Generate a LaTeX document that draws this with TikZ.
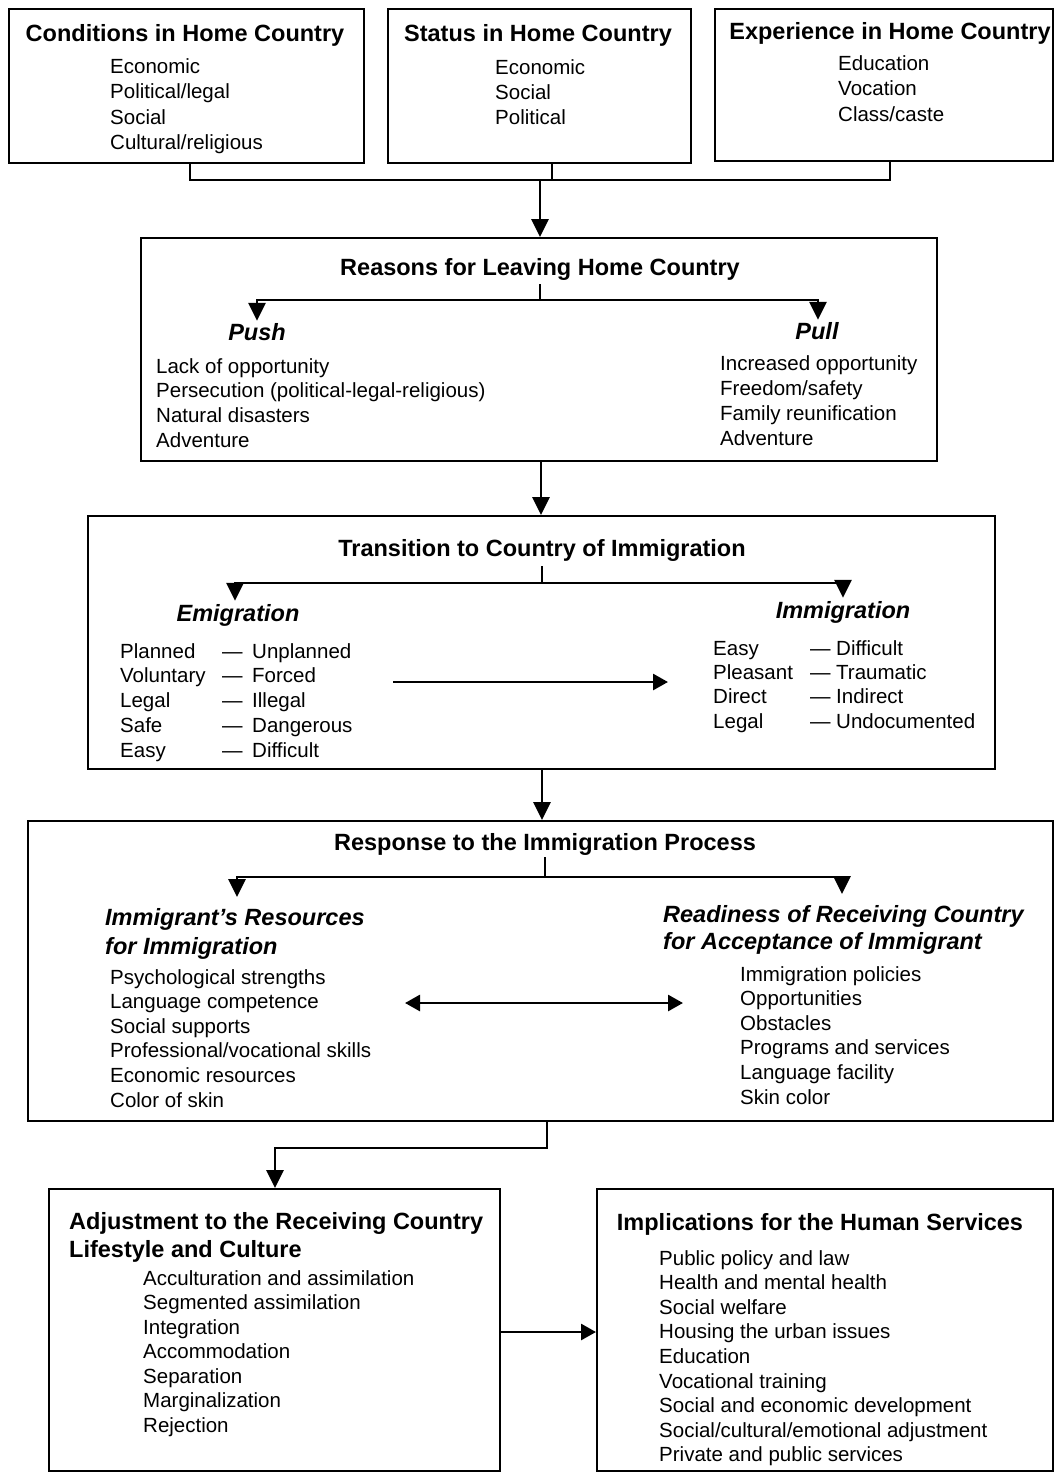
\documentclass[tikz,border=0pt]{standalone}
\usepackage{fontspec}
\setmainfont{Liberation Sans}
\usetikzlibrary{arrows.meta,calc}
\begin{document}
\begin{tikzpicture}[x=1pt,y=-1pt,
  box/.style={draw,line width=2pt,inner sep=0pt,anchor=north west},
  ttl/.style={font=\fontsize{23.5}{27}\selectfont\bfseries,anchor=base,inner sep=0pt},
  hd/.style={font=\fontsize{23.5}{28}\selectfont\bfseries\itshape,anchor=base west,inner sep=0pt},
  hdc/.style={font=\fontsize{23.5}{28}\selectfont\bfseries\itshape,anchor=base,inner sep=0pt},
  itm/.style={font=\fontsize{20.5}{25}\selectfont,anchor=base west,inner sep=0pt},
  conn/.style={line width=2.8pt,line cap=rect},
  arr/.style={line width=2.8pt,-{Triangle[length=18pt,width=17pt]}},
  arrs/.style={line width=2.8pt,-{Triangle[length=15pt,width=16pt]}},
  darr/.style={line width=2.8pt,{Triangle[length=15pt,width=16pt]}-{Triangle[length=15pt,width=16pt]}}
]
\useasboundingbox (0,0) rectangle (1054,1473);
\fill[white] (0,0) rectangle (1054,1473);

% ---------- top row ----------
\node[box,minimum width=355pt,minimum height=154pt] (b1) at (8,8) {};
\node[box,minimum width=303pt,minimum height=154pt] (b2) at (387,8) {};
\node[box,minimum width=338pt,minimum height=152pt] (b3) at (714,8) {};

\node[ttl] (t1) at (185,41) {Conditions in Home Country};
\foreach \t [count=\i from 0] in {Economic,Political/legal,Social,Cultural/religious}
  \node[itm] (c1-\i) at (110,{73+25.6*\i}) {\t};

\node[ttl] (t2) at (538,41) {Status in Home Country};
\foreach \t [count=\i from 0] in {Economic,Social,Political}
  \node[itm] (c2-\i) at (495,{74+25*\i}) {\t};

\node[ttl] (t3) at (890,39) {Experience in Home Country};
\foreach \t [count=\i from 0] in {Education,Vocation,Class/caste}
  \node[itm] (c3-\i) at (838,{70+25.5*\i}) {\t};

\coordinate (j1) at (190,180);
\coordinate (j2) at (552,180);
\coordinate (j3) at (890,180);
\coordinate (jm) at (540,180);
\draw[conn] (b1.south -| j1) -- (j1) -- (j3) -- (b3.south -| j3);
\draw[conn] (b2.south -| j2) -- (j2);

% ---------- reasons ----------
\node[box,minimum width=796pt,minimum height=223pt] (b4) at (140,237) {};
\draw[arr] (jm) -- (b4.north -| jm);

\node[ttl] (t4) at (540,275) {Reasons for Leaving Home Country};
\coordinate (f4t) at (540,285);
\coordinate (f4) at (540,300);
\coordinate (f4l) at (257,300);
\coordinate (f4r) at (818,300);
\node[hdc] (push) at (257,340) {Push};
\node[hdc] (pull) at (817,339) {Pull};
\draw[conn] (f4t) -- (f4);
\draw[conn] (f4l) -- (f4r);
\draw[arr,shorten >=2pt] (f4l) -- (push.north);
\draw[arr,shorten >=2pt] (f4r) -- (pull.north -| f4r);

\foreach \t [count=\i from 0] in {Lack of opportunity,Persecution (political-legal-religious),Natural disasters,Adventure}
  \node[itm] (pu-\i) at (156,{373+24.8*\i}) {\t};
\foreach \t [count=\i from 0] in {Increased opportunity,Freedom/safety,Family reunification,Adventure}
  \node[itm] (pl-\i) at (720,{370+25*\i}) {\t};

% ---------- transition ----------
\node[box,minimum width=907pt,minimum height=253pt] (b5) at (87,515) {};
\draw[arr] (b4.south -| 541,0) -- (b5.north -| 541,0);

\node[ttl] (t5) at (542,556) {Transition to Country of Immigration};
\coordinate (f5t) at (542,567);
\coordinate (f5) at (542,583);
\coordinate (f5l) at (235,583);
\coordinate (f5r) at (843,583);
\node[hdc] (emi) at (238,621) {Emigration};
\node[hdc] (imm) at (843,618) {Immigration};
\draw[conn] (f5t) -- (f5);
\draw[conn] (f5l) -- (f5r);
\draw[arr,shorten >=3pt] (f5l) -- (emi.north -| f5l);
\draw[arr,shorten >=3pt] (f5r) -- (imm.north -| f5r);

\foreach \a/\b [count=\i from 0] in {Planned/Unplanned,Voluntary/Forced,Legal/Illegal,Safe/Dangerous,Easy/Difficult} {
  \node[itm] (ea-\i) at (120,{658+24.8*\i}) {\a};
  \node[itm] (ed-\i) at (222,{658+24.8*\i}) {—};
  \node[itm] (eb-\i) at (252,{658+24.8*\i}) {\b};
}
\foreach \a/\b [count=\i from 0] in {Easy/Difficult,Pleasant/Traumatic,Direct/Indirect,Legal/Undocumented} {
  \node[itm] (ia-\i) at (713,{655+24.4*\i}) {\a};
  \node[itm] (id-\i) at (810,{655+24.4*\i}) {—};
  \node[itm] (ib-\i) at (836,{655+24.4*\i}) {\b};
}
\coordinate (m5l) at (393,682);
\coordinate (m5r) at (668,682);
\draw[arrs] (m5l) -- (m5r);

% ---------- response ----------
\node[box,minimum width=1025pt,minimum height=300pt] (b6) at (27,820) {};
\draw[arr] (b5.south -| 542,0) -- (b6.north -| 542,0);

\node[ttl] (t6) at (545,850) {Response to the Immigration Process};
\coordinate (f6t) at (545,858);
\coordinate (f6) at (545,877);
\coordinate (f6l) at (237,877);
\coordinate (f6r) at (842,877);
\coordinate (f6la) at (237,897);
\coordinate (f6ra) at (842,894);
\draw[conn] (f6t) -- (f6);
\draw[conn] (f6l) -- (f6r);
\draw[arr] (f6l) -- (f6la);
\draw[arr] (f6r) -- (f6ra);

\node[hd] (h6l1) at (105,925) {Immigrant’s Resources};
\node[hd] (h6l2) at (105,954) {for Immigration};
\node[hd] (h6r1) at (663,922) {Readiness of Receiving Country};
\node[hd] (h6r2) at (663,949) {for Acceptance of Immigrant};

\foreach \t [count=\i from 0] in {Psychological strengths,Language competence,Social supports,Professional/vocational skills,Economic resources,Color of skin}
  \node[itm] (rl-\i) at (110,{984+24.6*\i}) {\t};
\foreach \t [count=\i from 0] in {Immigration policies,Opportunities,Obstacles,Programs and services,Language facility,Skin color}
  \node[itm] (rr-\i) at (740,{981+24.6*\i}) {\t};

\coordinate (m6l) at (405,1003);
\coordinate (m6r) at (683,1003);
\draw[darr] (m6l) -- (m6r);

% ---------- adjustment / implications ----------
\node[box,minimum width=451pt,minimum height=282pt] (b7) at (48,1188) {};
\node[box,minimum width=456pt,minimum height=282pt] (b8) at (596,1188) {};

\coordinate (k1) at (547,1148);
\coordinate (k2) at (275,1148);
\draw[conn] (b6.south -| k1) -- (k1) -- (k2);
\draw[arr] (k2) -- (b7.north -| k2);

\node[hd,font=\fontsize{23.5}{28}\selectfont\bfseries] (t7a) at (69,1229) {Adjustment to the Receiving Country};
\node[hd,font=\fontsize{23.5}{28}\selectfont\bfseries] (t7b) at (69,1257) {Lifestyle and Culture};
\foreach \t [count=\i from 0] in {Acculturation and assimilation,Segmented assimilation,Integration,Accommodation,Separation,Marginalization,Rejection}
  \node[itm] (ad-\i) at (143,{1285+24.5*\i}) {\t};

\node[ttl] (t8) at (820,1230) {Implications for the Human Services};
\foreach \t [count=\i from 0] in {Public policy and law,Health and mental health,Social welfare,Housing the urban issues,Education,Vocational training,Social and economic development,Social/cultural/emotional adjustment,Private and public services}
  \node[itm] (im-\i) at (659,{1265+24.6*\i}) {\t};

\draw[arrs] (b7.east |- 0,1332) -- (b8.west |- 0,1332);
\end{tikzpicture}
\end{document}
